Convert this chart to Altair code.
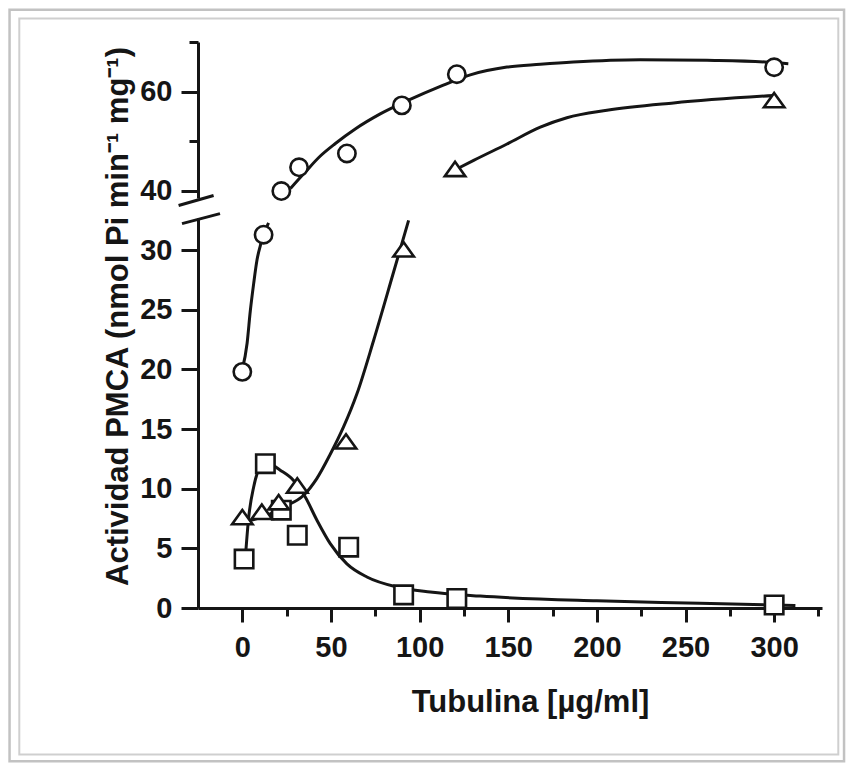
import altair as alt
import pandas as pd

# ---------------- data ----------------
# measured points (x in ug/ml, y in nmol Pi min-1 mg-1)
circ_x = [0, 12, 22, 32, 59, 90, 121, 300]
circ_y = [19.8, 31.3, 39.9, 44.7, 47.5, 57.2, 63.5, 64.9]
sq_x = [1, 13, 22, 31, 60, 91, 121, 300]
sq_y = [4.1, 12.1, 8.2, 6.1, 5.1, 1.1, 0.8, 0.25]
tri_x = [0, 11, 20.5, 31, 58.5, 91, 120, 300]
tri_y = [7.55, 8.0, 8.8, 10.2, 13.9, 30.0, 44.2, 58.1]

# fitted curves
circ_lo_cx = [0, 2.7, 4.5, 6.4, 8.3, 10.2, 12, 14.8]
circ_lo_cy = [20.0, 22.2, 24.9, 27.2, 29.2, 30.4, 31.3, 32.3]
circ_hi_cx = [27.1, 35.5, 44.0, 52.5, 63.7, 77.8, 94.7, 111.7, 128.6, 149.3, 168.1,
              186.7, 224.5, 262.1, 295, 308]
circ_hi_cy = [40.4, 43.74, 46.98, 49.51, 52.44, 55.48, 58.41, 61.04, 63.37, 64.94,
              65.5, 65.96, 66.44, 66.3, 65.96, 65.63]
tri_lo_cx = [0.7, 13.9, 23.3, 34.6, 42.1, 49.6, 57.1, 64.7, 74.1, 85.3, 93.8]
tri_lo_cy = [7.2, 7.77, 8.47, 9.45, 10.87, 12.89, 15.18, 17.98, 22.45, 28.15, 32.5]
tri_hi_cx = [119, 130.5, 149.3, 168.1, 183.1, 205.7, 243.3, 299.7]
tri_hi_cy = [44.0, 46.1, 49.4, 52.8, 54.7, 56.2, 57.7, 59.2]
sq_cx = [1.6, 3.6, 6.4, 10.2, 14.8, 21.4, 28.9, 35.5, 42.1, 49.6, 59, 70.3, 87.3,
         106, 134.2, 200, 258, 300, 312]
sq_cy = [4.0, 7.6, 10.15, 11.8, 12.1, 11.55, 10.7, 9.3, 7.36, 5.4, 3.7, 2.6, 1.76,
         1.34, 1.0, 0.6, 0.4, 0.25, 0.2]

# axis ticks / labels
x_ticks = [0, 25, 50, 75, 100, 125, 150, 175, 200, 225, 250, 275, 300, 325]
y_lo_ticks = [0, 2.5, 5, 7.5, 10, 12.5, 15, 17.5, 20, 22.5, 25, 27.5, 30, 32.5]
y_hi_ticks = [40, 50, 60, 70]
x_title = "Tubulina [µg/ml]"
y_title = "Actividad PMCA (nmol Pi min⁻¹ mg⁻¹)"

BREAK = 38.5
X_DOM = [-25, 327]
Y_LO = [0, 32.7]
Y_HI = [38.5, 70]
W = 624
H_LO = 390
H_HI = 156
INK = "#151515"
FONT = "Liberation Sans"

# page geometry of the plot origin (upper panel top-left)
PX, PY = 197.7, 41.5


def df(xs, ys):
    return pd.DataFrame({"x": xs, "y": ys})


pts_c = df(circ_x, circ_y)
pts_s = df(sq_x, sq_y)
pts_t = df(tri_x, tri_y)

xs = alt.Scale(domain=X_DOM, nice=False, zero=False)
ys_lo = alt.Scale(domain=Y_LO, nice=False, zero=False)
ys_hi = alt.Scale(domain=Y_HI, nice=False, zero=False)

x_axis = alt.Axis(
    values=x_ticks,
    labelExpr="datum.value % 50 === 0 ? datum.label : ''",
    tickSize={"condition": {"test": "datum.value % 50 === 0", "value": 14}, "value": 8},
    labelPadding=11,
    labelFontSize=29, labelFontWeight="bold", labelColor=INK, labelFont=FONT,
    domainWidth=3, domainColor=INK, tickWidth=3, tickColor=INK,
    grid=False, title=x_title, titleFontSize=31, titleFontWeight="bold",
    titleFont=FONT, titleColor=INK, titleX=332, titleY=103,
    titleAlign="center", titleBaseline="alphabetic",
)
y_lo_axis = alt.Axis(
    values=y_lo_ticks,
    labelExpr="datum.value % 5 === 0 ? datum.label : ''",
    tickSize={"condition": {"test": "datum.value % 5 === 0", "value": 17}, "value": 9},
    labelPadding=9,
    labelFontSize=29, labelFontWeight="bold", labelColor=INK, labelFont=FONT,
    domainWidth=3, domainColor=INK, tickWidth=3, tickColor=INK,
    grid=False, title=y_title, titleFontSize=31, titleFontWeight="bold",
    titleFont=FONT, titleColor=INK, titleX=-71, titleY=98, titleAngle=270,
    titleAlign="center", titleBaseline="alphabetic",
)
y_hi_axis = alt.Axis(
    values=y_hi_ticks,
    labelExpr="datum.value % 20 === 0 ? datum.label : ''",
    tickSize={"condition": {"test": "datum.value % 20 === 0", "value": 17}, "value": 9},
    labelPadding=9,
    labelFontSize=29, labelFontWeight="bold", labelColor=INK, labelFont=FONT,
    domainWidth=3, domainColor=INK, tickWidth=3, tickColor=INK,
    grid=False, title=None,
)


def curve(xs_, ys_, yscale, yaxis, xaxis):
    return alt.Chart(df(xs_, ys_)).mark_line(
        color=INK, strokeWidth=3, interpolate="monotone"
    ).encode(
        x=alt.X("x:Q", scale=xs, axis=xaxis),
        y=alt.Y("y:Q", scale=yscale, axis=yaxis),
    )


def points(d, shape, size, yscale):
    return alt.Chart(d).mark_point(
        shape=shape, size=size, filled=True, fill="white", stroke=INK,
        strokeWidth=2.6, opacity=1
    ).encode(
        x=alt.X("x:Q", scale=xs),
        y=alt.Y("y:Q", scale=yscale),
    )


TRI = "M-1,0.62L1,0.62L0,-0.78Z"
one = pd.DataFrame({"k": [0]})

# ---------------- lower panel ----------------
lo_c = pts_c[pts_c.y < BREAK]
lo_s = pts_s[pts_s.y < BREAK]
lo_t = pts_t[pts_t.y < BREAK]

lower = alt.layer(
    curve(sq_cx, sq_cy, ys_lo, y_lo_axis, x_axis),
    curve(tri_lo_cx, tri_lo_cy, ys_lo, y_lo_axis, x_axis),
    curve(circ_lo_cx, circ_lo_cy, ys_lo, y_lo_axis, x_axis),
    points(lo_s, "square", 340, ys_lo),
    points(lo_t, TRI, 420, ys_lo),
    points(lo_c, "circle", 300, ys_lo),
    alt.Chart(one).mark_rule(color=INK, strokeWidth=3).encode(
        x=alt.value(-16), x2=alt.value(22), y=alt.value(5.6), y2=alt.value(-4.4)
    ),
).properties(width=W, height=H_LO)

# ---------------- upper panel ----------------
hi_c = pts_c[pts_c.y >= BREAK]
hi_t = pts_t[pts_t.y >= BREAK]

upper = alt.layer(
    # decorative page frame (outer and inner line)
    alt.Chart(one).mark_rect(
        fillOpacity=0, stroke="#c2c2c2", strokeWidth=2.5
    ).encode(
        x=alt.value(8 + 1.25 - PX), x2=alt.value(845 - 1.25 - PX),
        y=alt.value(8 + 1.25 - PY), y2=alt.value(762 - 1.25 - PY)
    ),
    alt.Chart(one).mark_rect(
        fillOpacity=0, stroke="#cfcfcf", strokeWidth=2
    ).encode(
        x=alt.value(19 - PX), x2=alt.value(838 - PX),
        y=alt.value(18 - PY), y2=alt.value(754 - PY)
    ),
    curve(circ_hi_cx, circ_hi_cy, ys_hi, y_hi_axis, None),
    curve(tri_hi_cx, tri_hi_cy, ys_hi, y_hi_axis, None),
    points(hi_t, TRI, 420, ys_hi),
    points(hi_c, "circle", 300, ys_hi),
    alt.Chart(one).mark_rule(color=INK, strokeWidth=3).encode(
        x=alt.value(-19.4), x2=alt.value(15.6), y=alt.value(163.5), y2=alt.value(153.5)
    ),
).properties(width=W, height=H_HI)

chart = alt.vconcat(upper, lower, spacing=20, bounds="flush").properties(
    padding={"left": 0, "top": 0, "right": 0, "bottom": 0}, background="white"
).configure(
    font=FONT, view=alt.ViewConfig(stroke="transparent", strokeWidth=0)
)

chart.save("out.html", embed_options={"renderer": "svg", "actions": False})
